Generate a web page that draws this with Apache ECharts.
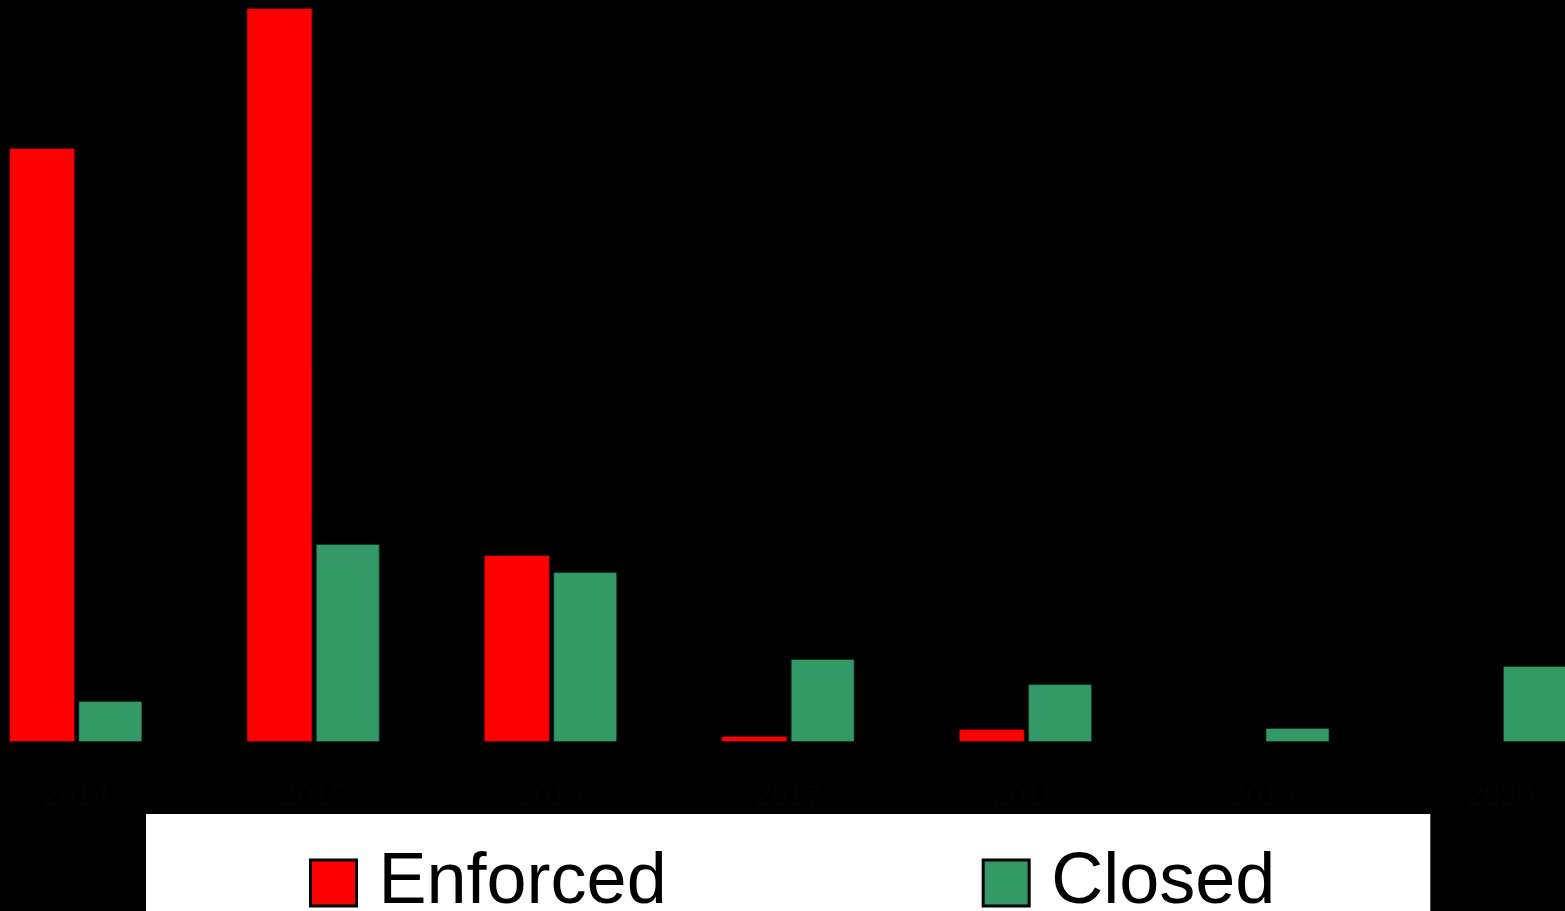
<!DOCTYPE html>
<html>
<head>
<meta charset="utf-8">
<script src="https://cdn.jsdelivr.net/npm/echarts@6/dist/echarts.min.js"></script>
<style>
  html, body { margin: 0; padding: 0; background: #000; overflow: hidden; }
  #main { position: relative; left: -43px; width: 1662px; height: 911px; }
</style>
</head>
<body>
<div id="main"></div>
<script>
// 数据
const categories = ["2014", "2015", "2016", "2017", "2018", "2019", "2020"]
const enforced = [59.4, 73.4, 18.7, 0.6, 1.3, 0, 0]
const closed = [4.1, 19.8, 17.0, 8.3, 5.8, 1.4, 7.6]

const myChart = echarts.init(document.getElementById("main"))

// 值为0时不画边框
function toItems(arr) {
  return arr.map(function (v) {
    return v === 0 ? { value: v, itemStyle: { borderWidth: 0 } } : v
  })
}

const option = {
  backgroundColor: "#000",
  animation: false,
  legend: {
    data: ["Enforced", "Closed"],
    left: 189,
    top: 814,
    padding: [33, 155, 40, 163],
    itemGap: 315,
    itemWidth: 46,
    itemHeight: 46,
    backgroundColor: "#fff",
    icon: "rect",
    itemStyle: {
      borderColor: "#000",
      borderWidth: 3
    },
    textStyle: {
      fontFamily: "Liberation Sans, Arial, sans-serif",
      fontSize: 72,
      lineHeight: 72,
      color: "#000",
      padding: [0, 0, 0, 17]
    }
  },
  grid: {
    left: 0,
    right: 0,
    top: 0,
    bottom: 169,
    containLabel: false
  },
  xAxis: {
    type: "category",
    data: categories,
    axisLine: { show: true, lineStyle: { color: "#000" } },
    axisTick: { show: false },
    axisLabel: {
      margin: 40,
      color: "#030303",
      fontSize: 30,
      fontFamily: "Liberation Sans, Arial, sans-serif"
    }
  },
  yAxis: {
    type: "value",
    min: 0,
    max: 74.2,
    show: false,
    splitLine: { show: false }
  },
  series: [
    {
      name: "Enforced",
      type: "bar",
      barWidth: 66,
      barGap: "5%",
      itemStyle: {
        color: "#ff0000",
        borderColor: "rgba(60,0,0,0.6)",
        borderWidth: 1
      },
      data: toItems(enforced)
    },
    {
      name: "Closed",
      type: "bar",
      barWidth: 64,
      itemStyle: {
        color: "#339966",
        borderColor: "rgba(0,40,20,0.6)",
        borderWidth: 1
      },
      data: toItems(closed)
    }
  ]
}
myChart.setOption(option, true)
</script>
</body>
</html>
